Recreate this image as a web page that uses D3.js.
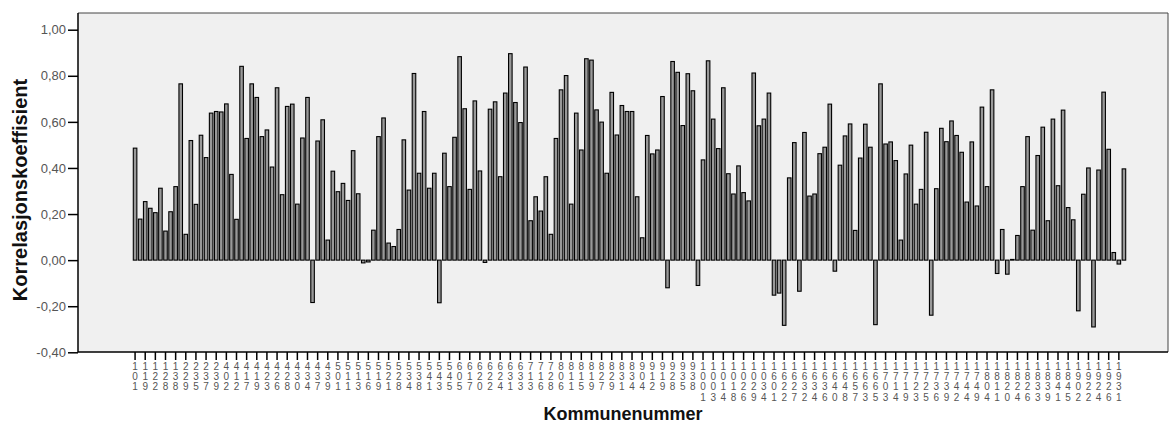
<!DOCTYPE html>
<html><head><meta charset="utf-8">
<script src="https://cdn.jsdelivr.net/npm/d3@7"></script>
<style>body{margin:0;background:#fff;} svg{display:block;font-family:"Liberation Sans",Arial,sans-serif;}</style>
</head><body><svg id="chart" width="1171" height="445"></svg>
<script>
// Correlation coefficient per bar (left to right)
const values = [
0.486,0.178,0.254,0.225,0.206,0.312,0.126,0.210,0.319,0.765,
0.112,0.519,0.242,0.542,0.445,0.638,0.645,0.643,0.678,0.372,
0.177,0.841,0.528,0.765,0.706,0.536,0.565,0.404,0.748,0.284,
0.667,0.677,0.243,0.530,0.706,-0.184,0.517,0.609,0.087,0.386,
0.297,0.333,0.259,0.475,0.288,-0.012,-0.008,0.130,0.536,0.617,
0.074,0.059,0.133,0.522,0.304,0.810,0.377,0.645,0.312,0.377,
-0.185,0.464,0.319,0.533,0.883,0.657,0.307,0.691,0.387,-0.010,
0.655,0.687,0.362,0.725,0.896,0.684,0.597,0.838,0.171,0.275,
0.213,0.362,0.112,0.528,0.739,0.801,0.243,0.638,0.478,0.874,
0.868,0.652,0.599,0.377,0.728,0.543,0.671,0.645,0.645,0.275,
0.097,0.541,0.461,0.478,0.710,-0.120,0.862,0.815,0.584,0.809,
0.735,-0.110,0.435,0.865,0.612,0.484,0.748,0.375,0.287,0.409,
0.293,0.257,0.812,0.583,0.612,0.725,-0.152,-0.143,-0.283,0.357,
0.510,-0.135,0.554,0.278,0.287,0.462,0.490,0.677,-0.048,0.412,
0.539,0.591,0.129,0.443,0.590,0.490,-0.280,0.765,0.504,0.513,
0.432,0.087,0.374,0.499,0.243,0.307,0.555,-0.239,0.310,0.572,
0.514,0.604,0.541,0.468,0.252,0.513,0.235,0.664,0.319,0.739,
-0.058,0.133,-0.061,0.003,0.107,0.319,0.536,0.130,0.454,0.577,
0.171,0.612,0.323,0.651,0.228,0.175,-0.220,0.286,0.400,-0.290,
0.391,0.729,0.481,0.033,-0.017,0.396
];
// Kommunenummer shown under every second bar
const tickLabels = [
"101","119","122","128","138",
"229","235","237","239",
"402","412","417","419","423","426","428","430","434","437","439",
"501","511","513","516","519","521","528","534","538","541","543","545",
"605","617","620","622","624","631","633",
"713","716","728",
"806","811","815","819","827","829","831","834",
"904","912","919","928","935","938",
"1001","1003","1014","1018","1026","1029","1034",
"1601","1622","1627","1632","1634","1636","1640","1648","1657","1663","1665",
"1703","1714","1719","1723","1725","1736","1739","1742","1744","1749",
"1804","1811","1820","1824","1826","1833","1839","1841","1845",
"1902","1922","1924","1926","1931"
];
const yTickValues = [-0.4,-0.2,0,0.2,0.4,0.6,0.8,1.0];
const xTitle = "Kommunenummer";
const yTitle = "Korrelasjonskoeffisient";

const barIds = d3.range(values.length);
const svg = d3.select('#chart');
const plot = {left:78, right:1168, top:13, bottom:352};

const y = d3.scaleLinear().domain([-0.4, 1.0]).range([352.3, 29.7]);
const x = d3.scaleBand().domain(barIds).range([133.3, 1125.7]).paddingInner(0.3).paddingOuter(0);

svg.append('rect').attr('x',plot.left).attr('y',plot.top)
  .attr('width',plot.right-plot.left).attr('height',plot.bottom-plot.top).attr('fill','#f0f0f0');
svg.append('path').attr('d',`M${plot.left},${plot.top}H${plot.right}V${plot.bottom}`)
  .attr('fill','none').attr('stroke','#444').attr('stroke-width',1);

svg.append('g').selectAll('rect').data(values).join('rect')
  .attr('x',(d,i)=>x(i)).attr('y',d=>y(Math.max(0,d)))
  .attr('width',x.bandwidth()).attr('height',d=>Math.max(0.5,Math.abs(y(d)-y(0))))
  .attr('fill','#999').attr('stroke','#000').attr('stroke-width',1.1);

const fmt = d3.formatLocale({decimal:",",thousands:".",grouping:[3],currency:["",""],minus:"-"}).format(".2f");
const gy = svg.append('g').attr('transform',`translate(${plot.left},0)`)
  .call(d3.axisLeft(y).tickValues(yTickValues).tickFormat(fmt).tickSize(10).tickPadding(2));
gy.select('.domain').remove();
gy.selectAll('line').attr('stroke','#000').attr('stroke-width',1.5);
gy.selectAll('text').attr('font-size',13).attr('fill','#555').attr('font-family','"Liberation Sans",Arial,sans-serif');

const gx = svg.append('g').attr('transform',`translate(0,${plot.bottom})`)
  .call(d3.axisBottom(x).tickValues(d3.range(0,values.length,2)).tickFormat((d,i)=>tickLabels[i]).tickSize(8));
gx.select('.domain').remove();
gx.selectAll('line').attr('stroke','#000').attr('stroke-width',1.5);
gx.selectAll('text').each(function(){
  const t = d3.select(this); const s = t.text();
  t.text(null).attr('y',null).attr('dy',null).attr('font-size',10).attr('fill','#555')
   .attr('font-family','"Liberation Sans",Arial,sans-serif');
  s.split('').forEach((c,j)=>t.append('tspan').attr('x',0).attr('y',18+j*10.2).text(c));
});

svg.append('path').attr('d',`M${plot.left},${plot.top}V${plot.bottom}H${plot.right}`)
  .attr('fill','none').attr('stroke','#000').attr('stroke-width',1.5);

svg.append('text').attr('transform','translate(27,190) rotate(-90)').attr('text-anchor','middle')
  .attr('font-size',20).attr('font-weight','bold').attr('fill','#111').text(yTitle);
svg.append('text').attr('x',623).attr('y',420).attr('text-anchor','middle')
  .attr('font-size',18).attr('font-weight','bold').attr('fill','#111').text(xTitle);
</script></body></html>
